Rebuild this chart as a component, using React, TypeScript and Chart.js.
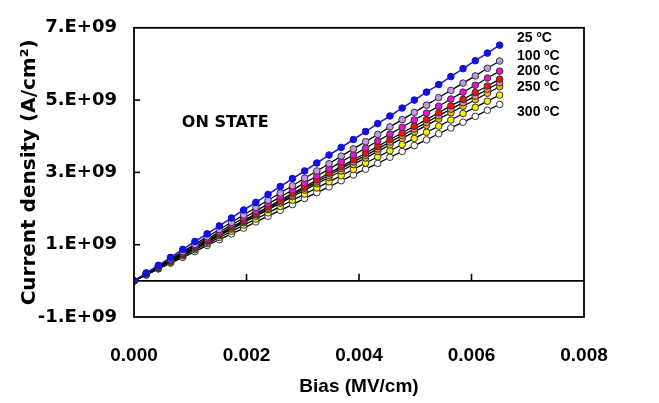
import React, { useEffect, useRef } from "react";
import { Chart, registerables } from "chart.js";

Chart.register(...registerables);

// Bias (MV/cm)
const bias = [
  0, 0.000217, 0.000433, 0.00065, 0.000867, 0.001083, 0.0013, 0.001517, 0.001733, 0.00195,
  0.002167, 0.002383, 0.0026, 0.002817, 0.003033, 0.00325, 0.003467, 0.003683, 0.0039, 0.004117,
  0.004333, 0.00455, 0.004767, 0.004983, 0.0052, 0.005417, 0.005633, 0.00585, 0.006067, 0.006283,
  0.0065,
];

// Current density in units of 1E+09 A/cm²
const j25 = [0, 0.22, 0.43, 0.65, 0.87, 1.09, 1.30, 1.52, 1.74, 1.96, 2.17, 2.39, 2.61, 2.83, 3.04, 3.26, 3.48, 3.69, 3.91, 4.13, 4.35, 4.56, 4.78, 5.00, 5.22, 5.43, 5.65, 5.87, 6.09, 6.30, 6.52];
const j100 = [0, 0.20, 0.41, 0.61, 0.81, 1.01, 1.22, 1.42, 1.62, 1.82, 2.03, 2.23, 2.43, 2.63, 2.84, 3.04, 3.24, 3.45, 3.65, 3.85, 4.05, 4.26, 4.46, 4.66, 4.86, 5.07, 5.27, 5.47, 5.67, 5.88, 6.08];
const j200 = [0, 0.19, 0.39, 0.58, 0.77, 0.97, 1.16, 1.35, 1.55, 1.74, 1.93, 2.13, 2.32, 2.51, 2.71, 2.90, 3.09, 3.29, 3.48, 3.67, 3.87, 4.06, 4.25, 4.45, 4.64, 4.83, 5.03, 5.22, 5.41, 5.61, 5.80];
const j225 = [0, 0.19, 0.37, 0.56, 0.74, 0.93, 1.12, 1.30, 1.49, 1.67, 1.86, 2.05, 2.23, 2.42, 2.60, 2.79, 2.98, 3.16, 3.35, 3.53, 3.72, 3.91, 4.09, 4.28, 4.46, 4.65, 4.84, 5.02, 5.21, 5.39, 5.58];
const j250 = [0, 0.18, 0.37, 0.55, 0.73, 0.91, 1.10, 1.28, 1.46, 1.64, 1.83, 2.01, 2.19, 2.37, 2.56, 2.74, 2.92, 3.11, 3.29, 3.47, 3.65, 3.84, 4.02, 4.20, 4.38, 4.57, 4.75, 4.93, 5.11, 5.30, 5.48];
const j265 = [0, 0.18, 0.36, 0.54, 0.72, 0.90, 1.07, 1.25, 1.43, 1.61, 1.79, 1.97, 2.15, 2.33, 2.51, 2.69, 2.86, 3.04, 3.22, 3.40, 3.58, 3.76, 3.94, 4.12, 4.30, 4.48, 4.65, 4.83, 5.01, 5.19, 5.37];
const j280 = [0, 0.17, 0.34, 0.51, 0.69, 0.86, 1.03, 1.20, 1.37, 1.54, 1.71, 1.88, 2.06, 2.23, 2.40, 2.57, 2.74, 2.91, 3.08, 3.26, 3.43, 3.60, 3.77, 3.94, 4.11, 4.28, 4.45, 4.63, 4.80, 4.97, 5.14];
const j300 = [0, 0.16, 0.33, 0.49, 0.65, 0.81, 0.98, 1.14, 1.30, 1.46, 1.63, 1.79, 1.95, 2.11, 2.28, 2.44, 2.60, 2.77, 2.93, 3.09, 3.25, 3.42, 3.58, 3.74, 3.90, 4.07, 4.23, 4.39, 4.55, 4.72, 4.88];

const seriesValues = [j25, j100, j200, j225, j250, j265, j280, j300];
const seriesNames = ["25 ºC", "100 ºC", "200 ºC", "225 ºC", "250 ºC", "265 ºC", "280 ºC", "300 ºC"];
const seriesFill = ["#1010f0", "#c49ae6", "#f010d0", "#f01010", "#f08a80", "#f5b800", "#f5f000", "#ffffff"];
const seriesLine = ["#2020d0", "#000000", "#000000", "#000000", "#000000", "#000000", "#000000", "#000000"];

// Temperature annotations (x in MV/cm, y in 1E+09 A/cm²)
const noteTexts = ["25 ºC", "100 ºC", "200 ºC", "250 ºC", "300 ºC"];
const noteX = [0.00681, 0.00681, 0.00681, 0.00681, 0.00681];
const noteY = [6.71, 6.21, 5.79, 5.37, 4.68];
const stateText = "ON STATE";
const stateX = 0.00085;
const stateY = 4.36;

const xTicks = { min: 0, max: 0.008, step: 0.002 };
const yTicks = { min: -1, max: 7, step: 2 };

const overlay = {
  id: "overlay",
  beforeDatasetsDraw(chart: any) {
    const { ctx, chartArea: a, scales } = chart;
    const x = scales.x;
    const y = scales.y;
    ctx.save();
    ctx.strokeStyle = "#000";
    ctx.lineWidth = 1.6;
    const y0 = y.getPixelForValue(0);
    ctx.beginPath();
    ctx.moveTo(a.left, y0);
    ctx.lineTo(a.right, y0);
    ctx.stroke();
    x.ticks.forEach((t: any) => {
      if (t.value > x.min && t.value < x.max) {
        const px = x.getPixelForValue(t.value);
        ctx.beginPath();
        ctx.moveTo(px, y0);
        ctx.lineTo(px, y0 - 7);
        ctx.stroke();
      }
    });
    y.ticks.forEach((t: any) => {
      if (t.value > y.min && t.value < y.max) {
        const py = y.getPixelForValue(t.value);
        ctx.beginPath();
        ctx.moveTo(a.left, py);
        ctx.lineTo(a.left + 6, py);
        ctx.stroke();
      }
    });
    ctx.restore();
  },
  afterDraw(chart: any) {
    const { ctx, chartArea: a, scales } = chart;
    const x = scales.x;
    const y = scales.y;
    ctx.save();
    ctx.strokeStyle = "#000";
    ctx.lineWidth = 1.8;
    ctx.strokeRect(a.left, a.top, a.right - a.left, a.bottom - a.top);
    ctx.fillStyle = "#000";
    ctx.textBaseline = "middle";
    ctx.textAlign = "left";
    ctx.font = "bold 14px 'Liberation Sans', Arial, sans-serif";
    noteTexts.forEach((s, i) => {
      ctx.fillText(s, x.getPixelForValue(noteX[i]), y.getPixelForValue(noteY[i] * 1e9));
    });
    ctx.font = "bold 16px 'DejaVu Sans', sans-serif";
    ctx.fillText(stateText, x.getPixelForValue(stateX), y.getPixelForValue(stateY * 1e9));
    ctx.restore();
  },
};

export default function App() {
  const ref = useRef<HTMLCanvasElement | null>(null);
  useEffect(() => {
    if (!ref.current) return;
    const datasets = seriesValues.map((vals, k) => ({
      label: seriesNames[k],
      data: vals.map((v, i) => ({ x: bias[i], y: v * 1e9 })),
      showLine: true,
      borderColor: seriesLine[k],
      borderWidth: k === 0 ? 1.6 : 1.3,
      pointRadius: 3.3,
      pointBackgroundColor: seriesFill[k],
      pointBorderColor: k === 0 ? "#1010c0" : "#333333",
      pointBorderWidth: 1,
    }));
    const chart = new Chart(ref.current, {
      type: "scatter",
      data: { datasets },
      plugins: [overlay],
      options: {
        animation: false,
        responsive: true,
        maintainAspectRatio: false,
        layout: { padding: { left: 18, top: 14, right: 75, bottom: 0 } },
        plugins: { legend: { display: false }, tooltip: { enabled: false } },
        scales: {
          x: {
            type: "linear",
            min: xTicks.min,
            max: xTicks.max,
            grid: { display: false, drawTicks: false },
            border: { display: false },
            ticks: {
              stepSize: xTicks.step,
              maxRotation: 0,
              color: "#000",
              padding: 27,
              font: { family: "'Liberation Sans', Arial, sans-serif", weight: "bold", size: 19 },
              callback: (v: any) => Number(v).toFixed(3),
            },
            title: {
              display: true,
              text: "Bias (MV/cm)",
              color: "#000",
              font: { family: "'Liberation Sans', Arial, sans-serif", weight: "bold", size: 19 },
              padding: { top: 0, bottom: 5 },
            },
            afterFit: (s: any) => {
              s.height = 86;
            },
          },
          y: {
            type: "linear",
            min: yTicks.min * 1e9,
            max: yTicks.max * 1e9,
            grid: { display: false, drawTicks: false },
            border: { display: false },
            ticks: {
              stepSize: yTicks.step * 1e9,
              color: "#000",
              padding: 17,
              font: { family: "'DejaVu Sans', sans-serif", weight: "bold", size: 18 },
              callback: (v: any) => `${Math.round(Number(v) / 1e9)}.E+09`,
            },
            title: {
              display: true,
              text: "Current density (A/cm²)",
              color: "#000",
              font: { family: "'DejaVu Sans', sans-serif", weight: "bold", size: 20 },
              padding: 0,
            },
            afterFit: (s: any) => {
              s.width = 116;
            },
          },
        },
      },
    });
    return () => chart.destroy();
  }, []);
  return (
    <div style={{ position: "absolute", left: 0, top: 0, width: 659, height: 403, background: "#fff" }}>
      <canvas ref={ref} />
    </div>
  );
}
